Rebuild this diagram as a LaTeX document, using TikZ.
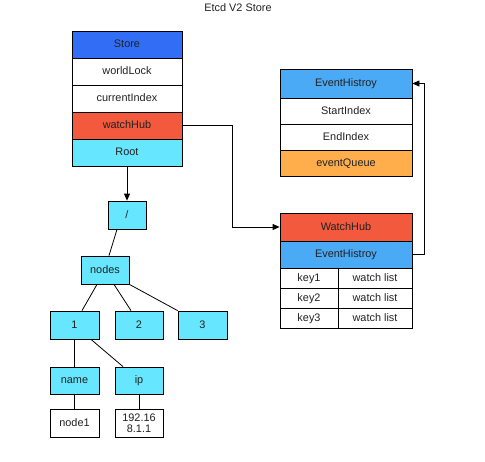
\documentclass[tikz,border=0pt]{standalone}
\usepackage{fontspec}
\setmainfont{Liberation Sans}
\usetikzlibrary{arrows.meta}
\definecolor{cStore}{HTML}{316EF5}
\definecolor{cRed}{HTML}{F2593D}
\definecolor{cCyan}{HTML}{66E6FF}
\definecolor{cLBlue}{HTML}{4BAAF5}
\definecolor{cOrange}{HTML}{FFAE4B}
\definecolor{cText}{HTML}{222222}
\begin{document}
\begin{tikzpicture}[x=1pt,y=-1pt,
  cell/.style={draw=black, line width=0.8pt, inner sep=0pt, text=cText,
    font=\fontsize{10.9}{12}\selectfont, text height=1.6ex, text depth=0.35ex},
  conn/.style={line width=0.8pt, black},
  arr/.style={conn, -{Triangle[length=7pt,width=6pt]}}]
\useasboundingbox (0,0) rectangle (485,461);
\node[font=\fontsize{10.9}{12}\selectfont, text=cText] (title) at (238,7.5) {Etcd V2 Store};
% Store
\node[cell, fill=cStore, minimum width=110pt, minimum height=27pt] (store) at (127,44.5) {Store};
\node[cell, fill=white, minimum width=110pt, minimum height=27pt] (wl) at (127,71.5) {worldLock};
\node[cell, fill=white, minimum width=110pt, minimum height=27pt] (ci) at (127,98.5) {currentIndex};
\node[cell, fill=cRed, minimum width=110pt, minimum height=27pt] (wh) at (127,125.5) {watchHub};
\node[cell, fill=cCyan, minimum width=110pt, minimum height=27pt] (root) at (127,152.5) {Root};
% EventHistroy
\node[cell, fill=cLBlue, minimum width=132pt, minimum height=29pt] (eh) at (346,83.5) {EventHistroy};
\node[cell, fill=white, minimum width=132pt, minimum height=26pt] (si) at (346,111) {StartIndex};
\node[cell, fill=white, minimum width=132pt, minimum height=26pt] (ei) at (346,137) {EndIndex};
\node[cell, fill=cOrange, minimum width=132pt, minimum height=26pt] (eq) at (346,163) {eventQueue};
% WatchHub
\node[cell, fill=cRed, minimum width=132pt, minimum height=28pt] (WH) at (346,227) {WatchHub};
\node[cell, fill=cLBlue, minimum width=132pt, minimum height=27pt] (eh2) at (346,254.5) {EventHistroy};
\node[cell, fill=white, minimum width=58pt, minimum height=20pt] (k1) at (309,278) {key1};
\node[cell, fill=white, minimum width=74pt, minimum height=20pt] (w1) at (375,278) {watch list};
\node[cell, fill=white, minimum width=58pt, minimum height=20pt] (k2) at (309,298) {key2};
\node[cell, fill=white, minimum width=74pt, minimum height=20pt] (w2) at (375,298) {watch list};
\node[cell, fill=white, minimum width=58pt, minimum height=20pt] (k3) at (309,318) {key3};
\node[cell, fill=white, minimum width=74pt, minimum height=20pt] (w3) at (375,318) {watch list};
% tree
\node[cell, fill=cCyan, minimum width=38pt, minimum height=28pt] (slash) at (127,215) {/};
\node[cell, fill=cCyan, minimum width=48pt, minimum height=28pt] (nodes) at (105,270) {nodes};
\node[cell, fill=cCyan, minimum width=49pt, minimum height=28pt] (n1) at (74.5,325) {1};
\node[cell, fill=cCyan, minimum width=48pt, minimum height=28pt] (n2) at (139,325) {2};
\node[cell, fill=cCyan, minimum width=49pt, minimum height=28pt] (n3) at (202.5,325) {3};
\node[cell, fill=cCyan, minimum width=49pt, minimum height=27pt] (name) at (74.5,380.5) {name};
\node[cell, fill=cCyan, minimum width=48pt, minimum height=27pt] (ip) at (139,380.5) {ip};
\node[cell, fill=white, minimum width=49pt, minimum height=28pt] (node1) at (74.5,423) {node1};
\node[draw=black, line width=0.8pt, inner sep=0pt, text=cText, fill=white, align=center,
  minimum width=48pt, minimum height=28pt, font=\fontsize{10.9}{11}\selectfont] (ipv) at (139,423) {192.16\\8.1.1};
% connectors
\coordinate (c1) at (232,125.5);
\draw[arr] (wh.east) -- (c1) |- (WH.west);
\coordinate (c2) at (424,254.5);
\draw[arr] (eh2.east) -- (c2) |- (eh.east);
\draw[arr] (root.south) -- (slash.north);
\draw[conn] ([xshift=-10pt]slash.south) -- ([xshift=4pt]nodes.north);
\draw[conn] ([xshift=-8pt]nodes.south) -- ([xshift=7.5pt]n1.north);
\draw[conn] ([xshift=9pt]nodes.south) -- ([xshift=-8pt]n2.north);
\draw[conn] (nodes.south east) -- (n3.north west);
\draw[conn] (n1.south) -- (name.north);
\draw[conn] ([xshift=16.5pt]n1.south) -- ([xshift=-16pt]ip.north);
\draw[conn] (name.south) -- (node1.north);
\draw[conn] (ip.south) -- (ipv.north);
\end{tikzpicture}
\end{document}
